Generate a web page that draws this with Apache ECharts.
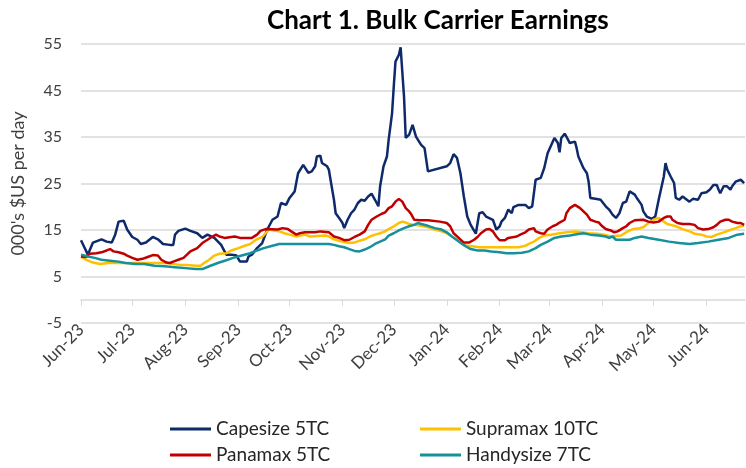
<!DOCTYPE html>
<html>
<head>
<meta charset="utf-8">
<script src="https://cdn.jsdelivr.net/npm/echarts@6/dist/echarts.min.js"></script>
<style>
  html, body { margin: 0; padding: 0; background: #fff; }
  #chart { width: 746px; height: 468px; }
</style>
</head>
<body>
<div id="chart"></div>
<script>
// days counted from 1 Jun 2023
var monthDays = [0, 30, 61, 92, 122, 153, 183, 214, 245, 274, 305, 335, 366]
var monthLabels = ['Jun-23', 'Jul-23', 'Aug-23', 'Sep-23', 'Oct-23', 'Nov-23', 'Dec-23',
  'Jan-24', 'Feb-24', 'Mar-24', 'Apr-24', 'May-24', 'Jun-24']

var capeDay = [0, 4, 7, 12, 15, 18, 20, 22, 25, 27, 30, 33, 35, 38, 42, 45, 48, 52, 54, 55, 57, 61, 64,
  68, 71, 74, 78, 82, 85, 88, 91, 93, 97, 98, 100, 103, 106, 109, 112, 115, 117, 120, 122, 125, 127, 130,
  133, 135, 137, 138, 140, 141, 144, 145, 146, 148, 149, 151, 153, 154, 156, 158, 160, 162, 164, 166, 168,
  170, 171, 172, 174, 175, 177, 179, 180, 182, 183, 184, 186, 187, 189, 190, 192, 194, 196, 199, 201, 203,
  214, 216, 218, 220, 222, 224, 226, 228, 231, 233, 235, 237, 241, 243, 245, 246, 248, 250, 252, 253, 256,
  257, 260, 262, 264, 266, 269, 271, 273, 276, 277, 279, 280, 281, 283, 284, 286, 287, 289, 290, 291, 294,
  296, 297, 298, 301, 304, 307, 309, 311, 313, 315, 317, 319, 321, 324, 325, 328, 329, 331, 334, 335, 336,
  338, 339, 341, 342, 343, 345, 347, 348, 350, 352, 353, 356, 358, 361, 363, 366, 368, 370, 372, 373, 374,
  376, 378, 380, 381, 383, 386, 387, 388]
var capeVal = [12.8, 9.7, 12.3, 13.0, 12.5, 12.3, 14.0, 16.8, 17.0, 15.1, 13.5, 12.9, 12.0, 12.3, 13.5, 13.0,
  12.0, 11.8, 11.8, 14.0, 14.8, 15.3, 14.8, 14.3, 13.3, 14.0, 13.3, 11.8, 9.7, 9.7, 9.5, 8.2, 8.2, 9.3, 9.7,
  11.1, 12.2, 15.1, 17.2, 17.9, 20.8, 20.4, 21.9, 23.3, 27.2, 29.0, 27.3, 27.6, 28.7, 30.8, 31.0, 29.4, 28.7,
  28.0, 25.8, 21.5, 18.6, 17.6, 16.5, 15.4, 17.2, 18.6, 19.4, 20.8, 21.5, 21.3, 22.2, 22.8, 22.6, 21.5, 20.1,
  24.4, 28.7, 30.8, 34.4, 40.1, 45.9, 51.2, 52.7, 54.3, 43.7, 34.8, 35.5, 37.6, 35.1, 33.3, 32.6, 27.6, 28.7,
  29.4, 31.3, 30.5, 27.2, 22.2, 17.9, 16.1, 14.2, 18.6, 18.8, 17.9, 17.2, 15.1, 15.8, 16.8, 17.6, 19.4, 18.6,
  19.9, 20.4, 20.1, 20.4, 19.7, 20.1, 25.8, 26.2, 28.3, 31.5, 34.0, 34.8, 33.7, 31.7, 34.8, 35.7, 35.1, 33.7,
  33.7, 34.0, 32.6, 30.8, 28.3, 27.2, 25.4, 21.9, 21.7, 21.5, 20.1, 19.4, 18.3, 17.6, 18.6, 20.8, 21.1, 23.3,
  22.6, 22.0, 20.4, 19.0, 17.9, 17.4, 17.4, 17.9, 21.5, 21.9, 26.5, 29.4, 28.0, 26.5, 25.1, 21.9, 21.5, 22.2,
  22.0, 21.1, 21.7, 21.5, 22.9, 23.1, 23.7, 24.7, 24.7, 23.7, 22.9, 24.4, 24.4, 23.7, 24.4, 25.4, 25.8, 25.4,
  25.1]

var panaDay = [0, 3, 5, 9, 12, 15, 17, 19, 22, 25, 27, 30, 33, 36, 39, 42, 45, 47, 50, 52, 54, 57, 60, 62,
  64, 68, 71, 74, 77, 79, 81, 84, 90, 93, 100, 103, 105, 108, 115, 118, 121, 123, 126, 128, 131, 137, 140,
  145, 148, 151, 154, 157, 160, 163, 166, 168, 170, 173, 176, 178, 180, 182, 184, 186, 187, 188, 190, 192,
  193, 195, 198, 203, 210, 214, 216, 218, 221, 224, 227, 230, 232, 234, 237, 239, 241, 243, 245, 248, 250,
  255, 257, 260, 262, 265, 266, 269, 271, 273, 276, 278, 280, 283, 284, 286, 289, 290, 292, 294, 296, 298,
  301, 303, 305, 307, 310, 312, 314, 317, 319, 321, 324, 329, 332, 335, 338, 341, 343, 345, 346, 349, 352,
  356, 359, 361, 364, 367, 370, 372, 374, 377, 379, 381, 384, 386, 388]
var panaVal = [9.3, 9.2, 9.9, 10.0, 10.2, 10.6, 10.9, 10.4, 10.2, 9.9, 9.5, 9.0, 8.6, 8.8, 9.2, 9.6, 9.5,
  8.6, 8.0, 7.9, 8.2, 8.6, 9.0, 9.7, 10.4, 11.1, 12.2, 12.9, 13.6, 14.0, 13.6, 13.3, 13.6, 13.3, 13.3, 14.0,
  14.8, 15.2, 15.1, 15.4, 15.2, 14.7, 14.0, 14.3, 14.5, 14.5, 14.7, 14.5, 13.6, 13.3, 12.8, 12.9, 13.5, 14.0,
  14.7, 16.1, 17.2, 17.9, 18.5, 18.8, 19.7, 20.1, 21.1, 21.7, 21.9, 21.1, 19.7, 19.0, 18.5, 17.2, 17.1, 17.1,
  16.8, 16.5, 15.8, 14.3, 13.3, 12.3, 12.3, 12.9, 13.5, 14.3, 15.1, 15.2, 14.7, 13.6, 12.8, 12.8, 13.3, 13.6,
  14.0, 14.5, 15.1, 15.4, 14.7, 14.3, 14.2, 15.1, 15.8, 16.1, 16.6, 17.2, 18.6, 19.7, 20.4, 20.2, 19.7, 19.0,
  18.3, 17.2, 16.8, 16.6, 15.8, 15.2, 14.9, 14.5, 14.7, 15.4, 15.8, 16.5, 17.1, 17.2, 16.8, 16.6, 16.8, 17.6,
  17.9, 17.9, 17.2, 16.5, 16.3, 16.3, 16.1, 15.4, 15.1, 15.2, 15.6, 16.1, 16.8, 17.2, 17.2, 16.8, 16.5, 16.5,
  16.1]

var supraDay = [0, 3, 7, 11, 16, 29, 40, 50, 58, 62, 67, 70, 72, 75, 78, 81, 85, 88, 92, 95, 99, 102, 106,
  108, 110, 113, 116, 119, 122, 126, 131, 134, 143, 145, 148, 151, 154, 157, 160, 163, 166, 169, 172, 175,
  178, 180, 183, 186, 188, 190, 192, 195, 199, 203, 207, 211, 214, 217, 220, 223, 226, 229, 233, 256, 260,
  262, 265, 268, 271, 275, 280, 284, 289, 293, 297, 302, 306, 310, 316, 318, 321, 323, 326, 329, 332, 335,
  338, 341, 343, 345, 348, 352, 356, 359, 363, 366, 369, 372, 376, 379, 383, 386, 388]
var supraVal = [9.2, 8.6, 8.0, 7.7, 7.9, 7.9, 7.9, 7.9, 7.5, 7.5, 7.3, 7.3, 7.9, 8.6, 9.5, 9.9, 10.0, 10.6,
  11.1, 11.5, 12.0, 12.8, 13.5, 14.3, 15.1, 14.9, 14.7, 14.3, 14.0, 13.6, 14.0, 13.6, 13.8, 13.6, 13.0, 12.7,
  12.4, 12.2, 12.3, 12.7, 13.0, 13.6, 14.0, 14.3, 14.7, 15.2, 15.8, 16.5, 16.8, 16.6, 16.3, 16.1, 15.9, 15.6,
  15.1, 14.7, 14.3, 13.6, 12.9, 12.2, 11.6, 11.5, 11.3, 11.3, 11.6, 12.0, 12.5, 13.3, 13.8, 14.0, 14.3, 14.5,
  14.7, 14.5, 14.3, 14.2, 14.0, 13.6, 13.8, 14.3, 14.9, 15.2, 15.3, 15.6, 16.5, 17.2, 17.6, 16.8, 16.3, 16.1,
  15.8, 15.2, 14.7, 14.2, 14.0, 13.6, 13.5, 14.0, 14.5, 14.9, 15.4, 15.8, 15.9]

var handyDay = [0, 4, 8, 12, 17, 22, 26, 32, 37, 43, 49, 55, 61, 67, 71, 75, 80, 85, 89, 94, 99, 103, 107,
  112, 116, 128, 145, 148, 151, 154, 157, 160, 163, 166, 169, 172, 175, 178, 180, 183, 186, 189, 192, 195,
  197, 199, 203, 207, 211, 214, 217, 220, 223, 225, 228, 232, 236, 240, 245, 249, 253, 258, 262, 266, 269,
  273, 277, 281, 286, 290, 294, 298, 303, 307, 309, 311, 313, 321, 324, 328, 332, 338, 344, 350, 356, 361,
  367, 373, 379, 384, 388]
var handyVal = [9.7, 9.3, 9.0, 8.6, 8.4, 8.2, 7.9, 7.7, 7.7, 7.3, 7.2, 7.0, 6.8, 6.6, 6.6, 7.2, 7.9, 8.5,
  9.0, 9.5, 10.0, 10.6, 11.1, 11.6, 12.0, 12.0, 12.0, 11.8, 11.5, 11.3, 10.9, 10.5, 10.4, 10.8, 11.3, 12.0,
  12.5, 13.0, 13.8, 14.3, 14.9, 15.4, 15.8, 16.1, 16.5, 16.3, 15.9, 15.4, 15.1, 14.5, 13.6, 12.8, 12.0, 11.5,
  10.9, 10.6, 10.6, 10.4, 10.2, 10.0, 10.0, 10.1, 10.4, 11.1, 11.8, 12.5, 13.3, 13.6, 13.8, 14.1, 14.3, 14.0,
  13.8, 13.6, 13.3, 13.6, 12.9, 12.9, 13.3, 13.6, 13.3, 12.9, 12.5, 12.2, 12.0, 12.2, 12.5, 12.9, 13.3, 14.0,
  14.2]

var seriesNames = ['Capesize 5TC', 'Supramax 10TC', 'Panamax 5TC', 'Handysize 7TC']
var seriesColors = ['#0e2a6b', '#ffc000', '#c00000', '#16909b']

var font = 'Lato, "Open Sans", sans-serif'
var textColor = '#404040'
var gridColor = '#d9d9d9'

function pairs(days, vals) {
  return days.map(function(d, i) { return [d, vals[i]] })
}

function lineSeries(idx, days, vals) {
  return {
    name: seriesNames[idx],
    type: 'line',
    xAxisIndex: 0,
    showSymbol: false,
    symbol: 'none',
    data: pairs(days, vals),
    lineStyle: { width: 2.5, color: seriesColors[idx] },
    itemStyle: { color: seriesColors[idx] }
  }
}

function makeLegend(left, names) {
  return {
    orient: 'vertical',
    left: left,
    top: 419,
    padding: 0,
    icon: 'rect',
    itemWidth: 41,
    itemHeight: 3,
    itemGap: 6,
    data: names,
    textStyle: { fontFamily: font, fontSize: 19, color: '#262626', lineHeight: 20 }
  }
}

var chart = echarts.init(document.getElementById('chart'))

chart.setOption({
  animation: false,
  title: {
    text: 'Chart 1. Bulk Carrier Earnings',
    left: 262,
    top: 3,
    textStyle: { fontFamily: font, fontSize: 26, fontWeight: 'bold', color: '#000' }
  },
  legend: [
    makeLegend(170, ['Capesize 5TC', 'Panamax 5TC']),
    makeLegend(420, ['Supramax 10TC', 'Handysize 7TC'])
  ],
  grid: { left: 81, right: 1, top: 44, bottom: 145 },
  xAxis: [
    {
      type: 'value',
      min: 0,
      max: 388.5,
      position: 'bottom',
      axisLine: { show: true, onZero: true, lineStyle: { color: gridColor, width: 1.5 } },
      axisTick: { show: true, inside: false, length: 6, customValues: monthDays, lineStyle: { color: gridColor } },
      axisLabel: { show: false },
      splitLine: { show: false }
    },
    {
      type: 'value',
      min: 0,
      max: 388.5,
      position: 'bottom',
      axisLine: { show: false, onZero: false },
      axisTick: { show: false },
      splitLine: { show: false },
      axisLabel: {
        customValues: monthDays,
        rotate: 45,
        margin: 4,
        fontFamily: font,
        fontSize: 17,
        color: textColor,
        formatter: function(v) {
          var i = monthDays.indexOf(Math.round(v))
          return i >= 0 ? monthLabels[i] : ''
        }
      }
    }
  ],
  yAxis: {
    type: 'value',
    min: -5,
    max: 55,
    interval: 10,
    name: "000's $US per day",
    nameLocation: 'middle',
    nameGap: 54,
    nameTextStyle: { fontFamily: font, fontSize: 18, color: textColor },
    axisLine: { show: false },
    axisTick: { show: false },
    axisLabel: { fontFamily: font, fontSize: 16, color: textColor, margin: 19 },
    splitLine: { lineStyle: { color: gridColor, width: 1.5 } }
  },
  series: [
    lineSeries(0, capeDay, capeVal),
    lineSeries(1, supraDay, supraVal),
    lineSeries(2, panaDay, panaVal),
    lineSeries(3, handyDay, handyVal)
  ]
})
</script>
</body>
</html>
